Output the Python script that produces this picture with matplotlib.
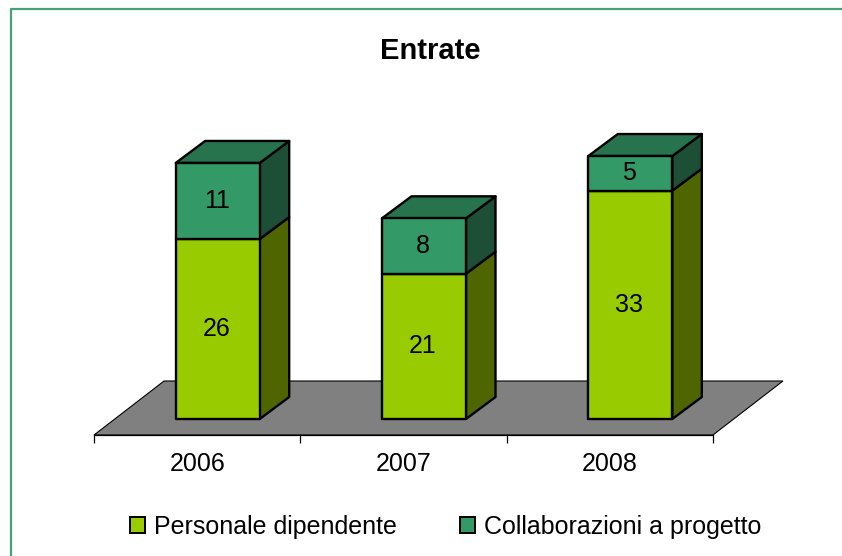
import matplotlib
matplotlib.use('Agg')
import matplotlib.pyplot as plt
from matplotlib.lines import Line2D
from matplotlib.patches import Patch, Polygon

plt.rcParams['font.family'] = ['Liberation Sans', 'DejaVu Sans']

years = ['2006', '2007', '2008']
personale = [26, 21, 33]
collaborazioni = [11, 8, 5]
names = ['Personale dipendente', 'Collaborazioni a progetto']

lime = ['#99CC00', '#4F6600']
green = ['#339966', '#1C4F36']
green_top = '#27734D'
border = '#45A277'

# pixel scale of the original: one category = 206.3 px, one unit = 6.92 px
px_x = 206.3
px_y = 6.92
bar_w = 84 / px_x
bar_shift = 20.5 / px_x
dx = 29.5 / px_x
dy = 22 / px_y
floor_y = -16 / px_y
floor_dx = 70 / px_x
floor_dy = 54 / px_y

fig = plt.figure(figsize=(8.42, 5.56), dpi=100)
ax = fig.add_axes([0, 0, 1, 1])
ax.set_xlim(-197.2 / px_x, (842 - 197.2) / px_x)
ax.set_ylim((419 - 556) / px_y, 419 / px_y)
ax.patch.set_visible(False)

# floor
ax.add_patch(Polygon([(-0.5, floor_y), (2.5, floor_y),
                      (2.5 + floor_dx, floor_y + floor_dy),
                      (-0.5 + floor_dx, floor_y + floor_dy)],
                     fc='#808080', ec='black', lw=0.8, zorder=1))


def block(i, bottom, height, colors, top_color=None):
    x0 = i + bar_shift - bar_w / 2
    x1 = x0 + bar_w
    y0, y1 = bottom, bottom + height
    style = dict(ec='black', lw=1.7, joinstyle='round', zorder=2)
    ax.add_patch(Polygon([(x1, y0), (x1 + dx, y0 + dy), (x1 + dx, y1 + dy), (x1, y1)],
                         fc=colors[1], **style))
    if top_color:
        ax.add_patch(Polygon([(x0, y1), (x1, y1), (x1 + dx, y1 + dy), (x0 + dx, y1 + dy)],
                             fc=top_color, **style))
    ax.add_patch(Polygon([(x0, y0), (x1, y0), (x1, y1), (x0, y1)], fc=colors[0], **style))
    ax.text((x0 + x1) / 2 - 0.005, (y0 + y1) / 2, str(height), ha='center', va='center',
            fontsize=18, color='black', zorder=3)


for i in range(len(years)):
    block(i, 0, personale[i], lime)
    block(i, personale[i], collaborazioni[i], green, green_top)

# category axis at the front edge of the floor
for side in ['top', 'left', 'right']:
    ax.spines[side].set_visible(False)
ax.spines['bottom'].set_position(('data', floor_y))
ax.spines['bottom'].set_bounds(-0.5, 2.5)
ax.spines['bottom'].set_linewidth(0.9)
ax.set_yticks([])
ax.set_xticks(range(len(years)), years, fontsize=18)
ax.tick_params(axis='x', which='major', length=0, pad=12)
ax.set_xticks([-0.5, 0.5, 1.5, 2.5], minor=True)
ax.tick_params(axis='x', which='minor', length=5.5, width=0.9)

fig.text(430.5 / 842, 1 - 51 / 556, 'Entrate', ha='center', va='center',
         fontsize=21, fontweight='bold')

handles = [Patch(fc=lime[0], ec='black', lw=1.4), Patch(fc=green[0], ec='black', lw=1.4)]
fig.legend(handles, names, ncol=2, frameon=False, fontsize=18,
           loc='center left', bbox_to_anchor=(130 / 842, 1 - 527 / 556),
           borderpad=0, borderaxespad=0, handlelength=0.58, handleheight=0.58,
           handletextpad=0.36, columnspacing=2.56)

# card border, open on the right and at the bottom
fig.add_artist(Line2D([11 / 842, 11 / 842, 1], [0, 1 - 9 / 556, 1 - 9 / 556],
                      transform=fig.transFigure, color=border, lw=1.6))

fig.savefig('out.png', dpi=100)
